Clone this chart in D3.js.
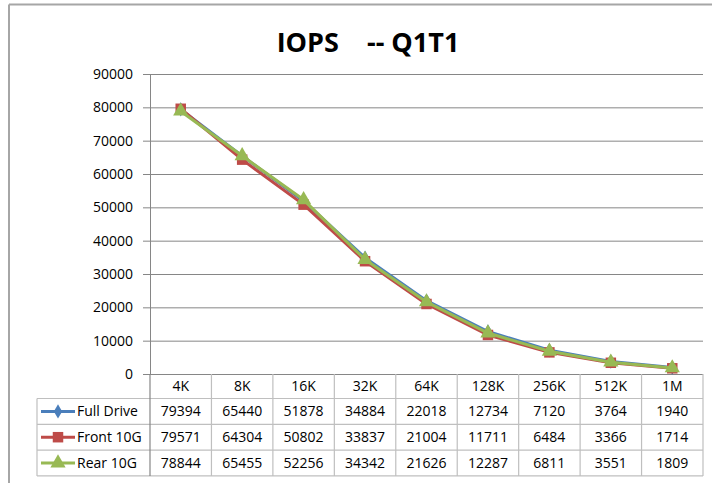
<!DOCTYPE html>
<html>
<head>
<meta charset="utf-8">
<script src="https://cdn.jsdelivr.net/npm/d3@7/dist/d3.min.js"></script>
<style>
  html, body { margin: 0; padding: 0; background: #fff; }
  svg { display: block; font-family: "Open Sans", "Noto Sans", sans-serif; }
</style>
</head>
<body>
<svg id="chart" width="712" height="483"></svg>
<script>
const title = "IOPS    -- Q1T1";
const categories = ["4K", "8K", "16K", "32K", "64K", "128K", "256K", "512K", "1M"];
const seriesNames = ["Full Drive", "Front 10G", "Rear 10G"];
const fullDrive = [79394, 65440, 51878, 34884, 22018, 12734, 7120, 3764, 1940];
const front10G = [79571, 64304, 50802, 33837, 21004, 11711, 6484, 3366, 1714];
const rear10G = [78844, 65455, 52256, 34342, 21626, 12287, 6811, 3551, 1809];
const yTicks = [0, 10000, 20000, 30000, 40000, 50000, 60000, 70000, 80000, 90000];

const colors = ["#4A7EBB", "#BE4B48", "#98B954"];
const symbols = [d3.symbolDiamond, d3.symbolSquare, d3.symbolTriangle];
const symSizes = [60, 110, 100];
const series = seriesNames.map((name, i) => ({
  name, values: [fullDrive, front10G, rear10G][i], color: colors[i], symbol: symbols[i], size: symSizes[i]
}));

const svg = d3.select("#chart");

// outer chart border (top and left visible)
svg.append("line").attr("x1", 9).attr("x2", 712).attr("y1", 4.5).attr("y2", 4.5)
  .attr("stroke", "#A6A6A6").attr("stroke-width", 2);
svg.append("line").attr("x1", 9).attr("x2", 9).attr("y1", 4.5).attr("y2", 483)
  .attr("stroke", "#A6A6A6").attr("stroke-width", 2);

const pLeft = 150, pRight = 703, pTop = 74, pBottom = 374;
const x = d3.scaleBand().domain(categories).range([pLeft, pRight]);
const y = d3.scaleLinear().domain([0, 90000]).range([pBottom, pTop]);

// title
svg.append("text").attr("x", 368).attr("y", 52).attr("text-anchor", "middle")
  .attr("font-size", 27).attr("font-weight", "bold").attr("fill", "#000")
  .style("white-space", "pre").text(title);

// gridlines
svg.append("g").attr("transform", `translate(${pLeft},0)`)
  .call(d3.axisLeft(y).tickValues(yTicks).tickSize(-(pRight - pLeft)).tickFormat(""))
  .call(g => g.select(".domain").remove())
  .call(g => g.selectAll("line").attr("stroke", "#868686").attr("stroke-width", 1));

// y axis
svg.append("g").attr("transform", `translate(${pLeft},0)`)
  .call(d3.axisLeft(y).tickValues(yTicks).tickSize(7).tickPadding(10).tickFormat(d3.format("d")))
  .call(g => g.select(".domain").attr("stroke", "#868686"))
  .call(g => g.selectAll("line").attr("stroke", "#868686"))
  .call(g => g.selectAll("text").attr("font-size", 14).attr("fill", "#000")
    .attr("font-family", "'Open Sans', sans-serif"));

// table
const tableLeft = 37, hdrTop = pBottom, hdrBottom = 398.5;
const rowH = 25.8;
const tableBottom = hdrBottom + rowH * 3;
const tg = svg.append("g");
const gridColor = "#BFBFBF";
[hdrBottom, hdrBottom + rowH, hdrBottom + 2 * rowH, tableBottom].forEach(yy => {
  tg.append("line").attr("x1", tableLeft).attr("x2", pRight).attr("y1", yy).attr("y2", yy)
    .attr("stroke", gridColor).attr("stroke-width", 1.2);
});
const colEdges = categories.map(c => x(c)).concat([pRight]);
colEdges.forEach((xx, i) => {
  tg.append("line").attr("x1", xx).attr("x2", xx).attr("y1", hdrTop).attr("y2", tableBottom)
    .attr("stroke", i === 0 ? "#868686" : gridColor).attr("stroke-width", 1.2);
});
tg.append("line").attr("x1", tableLeft).attr("x2", tableLeft).attr("y1", hdrBottom).attr("y2", tableBottom)
  .attr("stroke", gridColor).attr("stroke-width", 1.2);

tg.selectAll("text.cat").data(categories).join("text").attr("class", "cat")
  .attr("x", d => x(d) + x.bandwidth() / 2).attr("y", (hdrTop + hdrBottom) / 2)
  .attr("dy", "0.35em").attr("text-anchor", "middle").attr("font-size", 14).attr("fill", "#000")
  .text(d => d);

series.forEach((s, i) => {
  const cy = hdrBottom + rowH * i + rowH / 2;
  const row = tg.append("g");
  row.selectAll("text").data(s.values).join("text")
    .attr("x", (d, j) => x(categories[j]) + x.bandwidth() / 2).attr("y", cy)
    .attr("dy", "0.35em").attr("text-anchor", "middle").attr("font-size", 14).attr("fill", "#000")
    .text(d => d);
  row.append("line").attr("x1", 41).attr("x2", 75).attr("y1", cy).attr("y2", cy)
    .attr("stroke", s.color).attr("stroke-width", 3);
  row.append("path").attr("d", d3.symbol(s.symbol, s.size)())
    .attr("transform", `translate(58,${cy})`).attr("fill", s.color);
  row.append("text").attr("x", 77).attr("y", cy).attr("dy", "0.35em")
    .attr("font-size", 14).attr("fill", "#000").text(s.name);
});

const line = d3.line().x((d, j) => x(categories[j]) + x.bandwidth() / 2).y(d => y(d));
series.forEach(s => {
  const g = svg.append("g");
  g.append("path").datum(s.values).attr("d", line).attr("fill", "none")
    .attr("stroke", s.color).attr("stroke-width", 3).attr("stroke-linejoin", "round");
  g.selectAll("path.m").data(s.values).join("path").attr("class", "m")
    .attr("d", d3.symbol(s.symbol, s.size)())
    .attr("transform", (d, j) => `translate(${x(categories[j]) + x.bandwidth() / 2},${y(d)})`)
    .attr("fill", s.color);
});
</script>
</body>
</html>
